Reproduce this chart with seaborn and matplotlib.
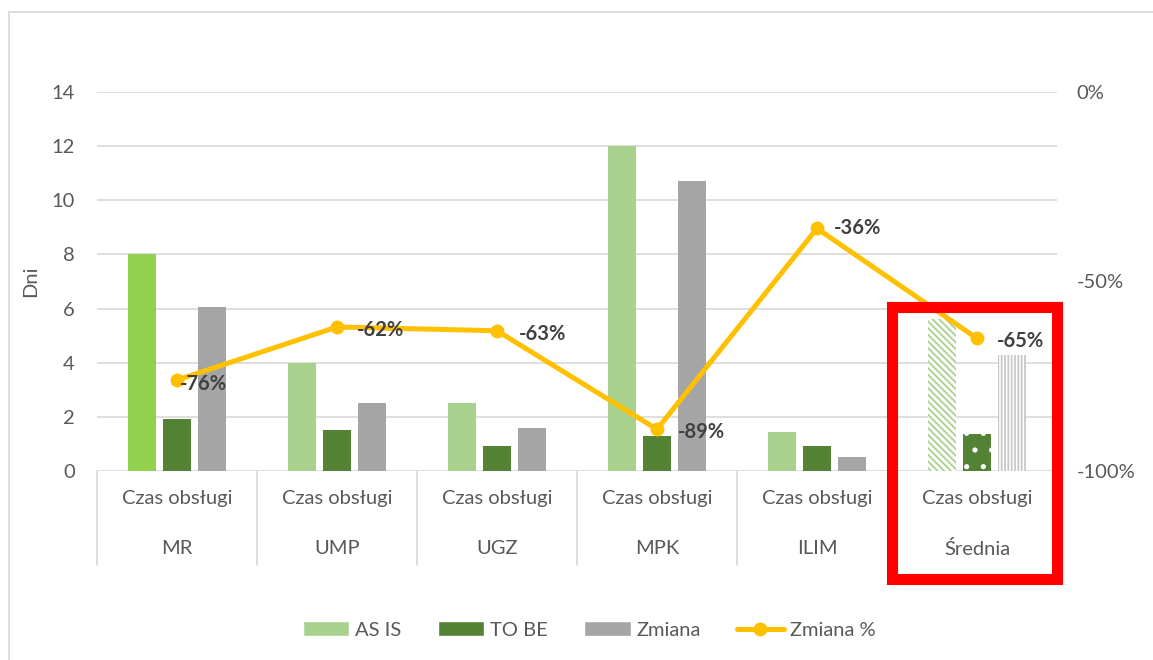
import pandas as pd
import seaborn as sns
import matplotlib.pyplot as plt
from matplotlib.patches import Patch, Rectangle
from matplotlib.lines import Line2D
from matplotlib.ticker import PercentFormatter
import matplotlib.transforms as mtransforms

# Dane
groups = ['MR', 'UMP', 'UGZ', 'MPK', 'ILIM', 'Średnia']
series = ['AS IS', 'TO BE', 'Zmiana']
as_is = [8, 4, 2.5, 12, 1.45, 5.6]
to_be = [1.92, 1.5, 0.93, 1.3, 0.92, 1.35]
zmiana = [6.05, 2.5, 1.57, 10.7, 0.53, 4.3]
zmiana_pct = [-0.76, -0.62, -0.63, -0.89, -0.36, -0.65]
sub_label = 'Czas obsługi'

df = pd.DataFrame({
    'grupa': groups * 3,
    'seria': [s for s in series for _ in groups],
    'dni': as_is + to_be + zmiana,
})

c_asis, c_tobe, c_zm, c_line = '#A9D18E', '#548235', '#A5A5A5', '#FFC000'
txt = '#595959'
fs = 14.5

sns.set_style('white')
plt.rcParams['font.family'] = ['Lato', 'DejaVu Sans']
plt.rcParams['hatch.linewidth'] = 1.3
plt.rcParams['axes.unicode_minus'] = False

fig = plt.figure(figsize=(11.53, 6.6), dpi=100)
ax = fig.add_axes([97 / 1153, 1 - 471 / 660, 960 / 1153, 379 / 660])

sns.barplot(data=df, x='grupa', y='dni', hue='seria', order=groups, hue_order=series,
            palette=[c_asis, c_tobe, c_zm], saturation=1, width=0.656, gap=0.2,
            linewidth=0, legend=False, ax=ax, zorder=2)

# pierwszy słupek jaśniejszy, średnia z deseniem
ax.containers[0][0].set_facecolor('#92D050')
b = ax.containers[0][5]
b.set_facecolor('white'); b.set_edgecolor(c_asis); b.set_hatch('\\\\\\\\\\')
b = ax.containers[1][5]
b.set_facecolor(c_tobe); b.set_edgecolor('white'); b.set_hatch('.')
b = ax.containers[2][5]
b.set_facecolor('white'); b.set_edgecolor('#C8C8C8'); b.set_hatch('|||||')

ax.set_ylim(0, 14)
ax.set_xlim(-0.5, len(groups) - 0.5)
ax.set_yticks(range(0, 15, 2))
ax.grid(axis='y', color='#D9D9D9', linewidth=1.2, zorder=0)
ax.set_axisbelow(True)
for s in ax.spines.values():
    s.set_visible(False)
ax.tick_params(axis='y', length=0, pad=16, labelsize=fs, labelcolor=txt)
ax.set_ylabel('Dni', fontsize=fs, color=txt)
ax.yaxis.set_label_coords(-0.06, 0.5)

# dwupoziomowa oś kategorii
ax.set_xticks(range(len(groups)))
ax.set_xticklabels([sub_label] * len(groups))
ax.tick_params(axis='x', length=0, pad=14, labelsize=fs, labelcolor=txt)
ax.set_xlabel('')
trans = mtransforms.blended_transform_factory(ax.transData, ax.transAxes)
for i, g in enumerate(groups):
    ax.text(i, -0.205, g, transform=trans, ha='center', va='center', fontsize=fs, color=txt)
for i in range(len(groups) + 1):
    ax.plot([i - 0.5, i - 0.5], [0, -0.248], transform=trans, color='#D9D9D9',
            linewidth=1.2, clip_on=False)

# linia procentowa
ax2 = ax.twinx()
sns.lineplot(x=list(range(len(groups))), y=zmiana_pct, ax=ax2, color=c_line, linewidth=3.6,
             marker='o', markersize=10, markeredgewidth=0, zorder=5)
ax2.set_ylim(-1, 0)
ax2.set_yticks([0, -0.5, -1])
ax2.yaxis.set_major_formatter(PercentFormatter(1.0, decimals=0))
ax2.tick_params(axis='y', length=0, pad=14, labelsize=fs, labelcolor=txt)
for s in ax2.spines.values():
    s.set_visible(False)
ax2.set_xlim(-0.5, len(groups) - 0.5)

dx = [2, 14, 16, 15, 12, 14]
dy = [-3, -2, -2, -2, 0, -2]
for i, v in enumerate(zmiana_pct):
    ax2.annotate(f'{v * 100:.0f}%', (i, v), xytext=(dx[i], dy[i]), textcoords='offset points',
                 ha='left', va='center', fontsize=14.5, fontweight='bold', color='#404040', zorder=6)

# legenda
handles = [Patch(facecolor=c_asis), Patch(facecolor=c_tobe), Patch(facecolor=c_zm),
           Line2D([], [], color=c_line, linewidth=3.6, marker='o', markersize=10, markeredgewidth=0)]
fig.legend(handles, ['AS IS', 'TO BE', 'Zmiana', 'Zmiana %'], loc='center', ncol=4,
           bbox_to_anchor=(0.511, 1 - 630 / 660), frameon=False, fontsize=fs,
           labelcolor=txt, handlelength=2.3, handleheight=0.7, handletextpad=0.3, columnspacing=1.8)

# ramka wykresu i czerwone wyróżnienie
fig.add_artist(Rectangle((9 / 1153, -0.2), 1.5, 1.2 - 12 / 660, transform=fig.transFigure,
                         fill=False, edgecolor='#D9D9D9', linewidth=1.3))
fig.add_artist(Rectangle((891.5 / 1153, 1 - 579 / 660), 165 / 1153, 272 / 660,
                         transform=fig.transFigure, fill=False, edgecolor='#FF0000',
                         linewidth=8, zorder=10))

fig.savefig('out.png', dpi=100)
